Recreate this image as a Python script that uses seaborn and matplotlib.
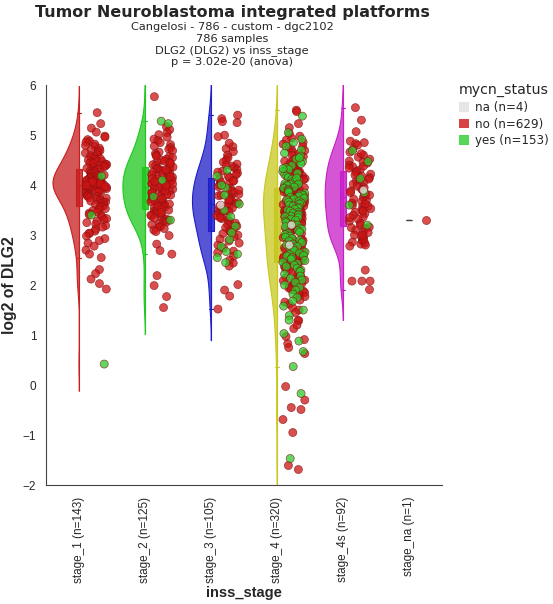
import numpy as np
import pandas as pd
import matplotlib
matplotlib.use("Agg")
import matplotlib.pyplot as plt
import seaborn as sns
from matplotlib.colors import to_rgba
from matplotlib.patches import Patch, Rectangle

# categories / labels
stages = ["stage_1", "stage_2", "stage_3", "stage_4", "stage_4s", "stage_na"]
stage_labels = ["stage_1 (n=143)", "stage_2 (n=125)", "stage_3 (n=105)",
                "stage_4 (n=320)", "stage_4s (n=92)", "stage_na (n=1)"]
status_levels = ["na", "no", "yes"]
status_labels = ["na (n=4)", "no (n=629)", "yes (n=153)"]

# log2 of DLG2, per stage and mycn status
s1_no = [5.45, 5.23, 5.14, 5.06, 4.98, 4.96, 4.91, 4.88, 4.86, 4.82,
         4.79, 4.77, 4.74, 4.71, 4.69, 4.66, 4.64, 4.61, 4.59, 4.57,
         4.55, 4.53, 4.52, 4.50, 4.48, 4.47, 4.45, 4.44, 4.43, 4.42,
         4.41, 4.39, 4.38, 4.37, 4.35, 4.34, 4.32, 4.31, 4.30, 4.28,
         4.27, 4.26, 4.24, 4.23, 4.22, 4.20, 4.19, 4.18, 4.16, 4.15,
         4.14, 4.13, 4.12, 4.10, 4.09, 4.08, 4.07, 4.06, 4.05, 4.04,
         4.03, 4.02, 4.01, 3.99, 3.98, 3.97, 3.96, 3.95, 3.93, 3.92,
         3.91, 3.90, 3.88, 3.87, 3.86, 3.85, 3.83, 3.82, 3.81, 3.79,
         3.78, 3.77, 3.75, 3.74, 3.72, 3.71, 3.69, 3.68, 3.66, 3.65,
         3.63, 3.61, 3.59, 3.57, 3.55, 3.53, 3.51, 3.49, 3.46, 3.44,
         3.41, 3.39, 3.36, 3.33, 3.31, 3.28, 3.25, 3.22, 3.19, 3.16,
         3.12, 3.08, 3.04, 3.03, 2.98, 2.93, 2.89, 2.84, 2.78, 2.70,
         2.62, 2.55, 2.31, 2.23, 2.12, 2.03, 1.92, 4.02, 4.05, 3.98,
         4.08, 3.96, 4.04, 4.01, 3.99, 4.06, 4.03, 3.97, 4.07, 4.00]
s1_yes = [0.42, 3.40, 4.18]

s2_no = [5.77, 5.17, 5.11, 5.05, 5.01, 4.96, 4.92, 4.89, 4.85, 4.81,
         4.78, 4.75, 4.72, 4.69, 4.66, 4.63, 4.60, 4.57, 4.55, 4.52,
         4.50, 4.47, 4.45, 4.43, 4.41, 4.39, 4.37, 4.35, 4.34, 4.32,
         4.30, 4.28, 4.26, 4.24, 4.22, 4.20, 4.18, 4.16, 4.14, 4.12,
         4.10, 4.08, 4.06, 4.04, 4.02, 4.00, 3.98, 3.96, 3.94, 3.92,
         3.90, 3.88, 3.86, 3.84, 3.82, 3.80, 3.78, 3.76, 3.74, 3.72,
         3.70, 3.68, 3.66, 3.64, 3.62, 3.60, 3.58, 3.56, 3.54, 3.52,
         3.50, 3.48, 3.46, 3.44, 3.42, 3.40, 3.38, 3.36, 3.34, 3.32,
         3.30, 3.28, 3.26, 3.23, 3.21, 3.18, 3.16, 3.13, 3.10, 3.07,
         2.99, 2.82, 2.69, 2.62, 2.19, 1.99, 1.77, 1.55, 4.48, 4.21,
         3.95, 3.67, 4.58, 3.81, 4.13, 3.57, 4.36, 4.02, 3.73, 4.27,
         3.89, 3.51, 4.44, 4.07, 3.62, 3.85, 4.17, 3.99, 3.45, 4.31]
s2_yes = [5.28, 5.23, 3.77, 4.10, 3.30]

s3_no = [5.40, 5.33, 5.27, 5.25, 5.00, 4.97, 4.77, 4.73, 4.67, 4.60,
         4.55, 4.50, 4.46, 4.42, 4.38, 4.35, 4.31, 4.28, 4.24, 4.21,
         4.18, 4.15, 4.12, 4.09, 4.06, 4.03, 4.00, 3.97, 3.94, 3.91,
         3.88, 3.85, 3.82, 3.79, 3.76, 3.73, 3.70, 3.68, 3.66, 3.63,
         3.60, 3.57, 3.54, 3.51, 3.48, 3.45, 3.42, 3.39, 3.36, 3.33,
         3.30, 3.27, 3.24, 3.21, 3.18, 3.15, 3.12, 3.09, 3.06, 3.03,
         3.00, 2.97, 2.92, 2.88, 2.84, 2.80, 2.74, 2.68, 2.65, 2.58,
         2.50, 2.44, 2.38, 2.01, 1.90, 1.78, 1.52, 4.84, 4.40, 3.90,
         3.65, 3.35, 4.26, 3.58, 3.80, 4.08, 3.47, 3.71]
s3_yes = [4.30, 4.18, 3.95, 3.62, 3.18, 2.91, 2.77, 2.62, 2.67, 3.37,
          4.00, 3.50, 3.80, 2.45, 2.55, 3.05]
s3_na = [3.60]

s4_no = [5.50, 5.47, 5.23, 5.15, 5.03, 4.98, 4.94, 4.90, 4.86, 4.82,
         4.78, 4.75, 4.72, 4.69, 4.66, 4.63, 4.60, 4.57, 4.54, 4.51,
         4.48, 4.46, 4.43, 4.41, 4.38, 4.36, 4.34, 4.31, 4.29, 4.27,
         4.25, 4.23, 4.21, 4.19, 4.17, 4.15, 4.13, 4.11, 4.09, 4.08,
         4.06, 4.05, 4.03, 4.02, 4.00, 3.99, 3.98, 3.97,
         3.96, 3.95, 3.93, 3.92, 3.91, 3.89, 3.88, 3.86, 3.85, 3.84,
         3.82, 3.81, 3.79, 3.78, 3.77, 3.75, 3.74, 3.72, 3.71, 3.70,
         3.68, 3.67, 3.65, 3.64, 3.63, 3.61, 3.60, 3.58, 3.57, 3.56,
         3.54, 3.53, 3.51, 3.50, 3.49, 3.47, 3.46, 3.45, 3.43, 3.42,
         3.41, 3.40, 3.39, 3.38, 3.37, 3.36, 3.35, 3.34, 3.33,
         3.31, 3.29, 3.27, 3.25, 3.23, 3.21, 3.19, 3.17, 3.15, 3.13,
         3.11, 3.09, 3.07, 3.05, 3.03, 3.01, 2.99, 2.97, 2.95, 2.93,
         2.91, 2.89, 2.87, 2.85, 2.83, 2.81, 2.79, 2.77, 2.75, 2.73,
         2.71, 2.69, 2.67, 2.65, 2.63, 2.61, 2.59, 2.58, 2.57, 2.56,
         2.54, 2.52, 2.50, 2.48, 2.46, 2.44, 2.42, 2.40, 2.38,
         2.36, 2.33, 2.31, 2.28, 2.26, 2.23, 2.21, 2.18, 2.15, 2.12,
         2.09, 2.06, 2.03, 2.00, 1.97, 1.94, 1.91, 1.88, 1.85, 1.80,
         1.77, 1.70, 1.62, 1.55, 1.50, 1.29, 1.29, 1.13, 0.97, 0.91,
         0.83, 0.63, -0.03, -0.30, -0.45, -0.49, -0.69, -0.95, -1.61, -1.69,
         1.95, 2.25, 1.84, 2.10, 1.66, 1.45, 2.35, 1.20, 0.75]
s4_yes = [5.38, 5.05, 4.92, 4.85, 4.78, 4.70, 4.64, 4.58, 4.52, 4.47,
          4.43, 4.39, 4.35, 4.31, 4.27, 4.24, 4.21, 4.18, 4.15, 4.12,
          4.10, 4.07, 4.05, 4.03, 4.01, 3.99, 4.55, 4.33, 4.14, 4.02,
          3.96, 3.94, 3.92, 3.90, 3.88, 3.86, 3.84, 3.82, 3.80, 3.78,
          3.76, 3.74, 3.72, 3.70, 3.68, 3.66, 3.64, 3.62, 3.60, 3.58,
          3.56, 3.54, 3.52, 3.50, 3.48, 3.46, 3.44, 3.42, 3.40, 3.38, 3.37,
          3.35, 3.32, 3.30, 3.28, 3.25, 3.22, 3.20, 3.17, 3.14, 3.12,
          3.09, 3.06, 3.04, 3.01, 2.98, 2.96, 2.93, 2.90, 2.88, 2.85,
          2.82, 2.80, 2.77, 2.74, 2.72, 2.69, 2.66, 2.64, 2.61, 2.59, 2.58,
          2.55, 2.52, 2.49, 2.46, 2.43, 2.40, 2.37, 2.34, 2.30, 2.27,
          2.22, 2.18, 2.14, 2.10, 2.05, 2.00, 1.95, 1.90, 1.82, 1.75,
          1.68, 1.58, 1.50, 1.39, 1.30, 1.03, 0.88, 0.67, 0.37, -0.17, -1.47]
s4_na = [3.20, 2.80]

s4s_no = [5.55, 5.30, 5.07, 4.88, 4.85, 4.83, 4.80, 4.72, 4.66, 4.60,
          4.56, 4.52, 4.48, 4.44, 4.40, 4.37, 4.34, 4.31, 4.28, 4.25,
          4.22, 4.18, 4.15, 4.12, 4.08, 4.05, 4.02, 3.98, 3.95, 3.92,
          3.88, 3.85, 3.82, 3.78, 3.75, 3.72, 3.70, 3.67, 3.64, 3.60,
          3.57, 3.53, 3.50, 3.46, 3.43, 3.40, 3.36, 3.32, 3.28, 3.24,
          3.20, 3.16, 3.13, 3.10, 3.05, 3.00, 2.95, 2.90, 2.88, 2.86,
          2.84, 2.82, 2.80, 2.78, 2.30, 2.08, 2.08, 2.08, 1.91, 4.63,
          4.20, 3.90, 3.58, 3.15, 2.98, 4.46, 3.80, 3.35, 4.10, 3.62,
          2.92, 3.05, 4.38, 3.48, 3.00]
s4s_yes = [4.69, 4.47, 4.13, 3.60, 3.20, 3.85]
s4s_na = [3.90]

sna_no = [3.30]

groups = [("stage_1", "no", s1_no), ("stage_1", "yes", s1_yes),
          ("stage_2", "no", s2_no), ("stage_2", "yes", s2_yes),
          ("stage_3", "no", s3_no), ("stage_3", "yes", s3_yes), ("stage_3", "na", s3_na),
          ("stage_4", "no", s4_no), ("stage_4", "yes", s4_yes), ("stage_4", "na", s4_na),
          ("stage_4s", "no", s4s_no), ("stage_4s", "yes", s4s_yes), ("stage_4s", "na", s4s_na),
          ("stage_na", "no", sna_no)]
rows = []
for stage, status, vals in groups:
    rows += [(stage, status, v) for v in vals]
df = pd.DataFrame(rows, columns=["inss_stage", "mycn_status", "value"])

# colours
stage_colors = ["#c81e1e", "#1ec81e", "#1e1ec8", "#c8c81e", "#c81ec8", "#444444"]
status_colors = {"na": "#e6e6e6", "no": "#cc1414", "yes": "#2ccc2c"}

ylo, yhi = -2, 6

sns.set_style("white")
np.random.seed(3)

fig = plt.figure(figsize=(5.53, 6.04), dpi=100)
ax = fig.add_axes([0.083, 0.197, 0.716, 0.662])

# half violins (left side); a single sample gets no violin
counts = df["inss_stage"].value_counts()
vdf = df[df["inss_stage"].map(counts) > 1]
n0 = len(ax.collections)
sns.violinplot(data=vdf, x="inss_stage", y="value", order=stages, hue="inss_stage",
               hue_order=stages, palette=stage_colors, inner=None, cut=2, width=0.8,
               common_norm=True, linewidth=0.8, saturation=1, legend=False, ax=ax)
for coll in ax.collections[n0:]:
    paths = coll.get_paths()
    if not paths:
        continue
    verts = np.concatenate([p.vertices for p in paths])
    c = float(np.round(verts[:, 0].mean()))
    col = stage_colors[int(c)]
    coll.set_facecolor(to_rgba(col, 0.75))
    coll.set_edgecolor(col)
    coll.set_clip_path(Rectangle((c - 0.5, ylo), 0.5, yhi - ylo, transform=ax.transData))
    ax.vlines(c, max(verts[:, 1].min(), ylo), min(verts[:, 1].max(), yhi), color=col, lw=0.8, zorder=2)

# narrow boxes
for i, s in enumerate(stages):
    sub = df[df["inss_stage"] == s]
    n0 = len(ax.patches)
    sns.boxplot(data=sub, x="inss_stage", y="value", order=stages, width=0.1,
                color=stage_colors[i], linecolor=stage_colors[i], linewidth=0.8,
                showfliers=False, showmeans=True, meanline=True,
                meanprops=dict(color=stage_colors[i], ls="--", lw=0.8),
                saturation=1, ax=ax)
    for p in ax.patches[n0:]:
        p.set_facecolor(to_rgba(stage_colors[i], 0.85))
        p.set_edgecolor(stage_colors[i])

# jittered points, shifted to the right of each violin
n0 = len(ax.collections)
sns.stripplot(data=df, x="inss_stage", y="value", order=stages, hue="mycn_status",
              hue_order=status_levels, palette=status_colors, jitter=0.17, size=5.8,
              alpha=0.75, linewidth=0.5, edgecolor="#8a1010", legend=False, ax=ax)
for coll in ax.collections[n0:]:
    off = coll.get_offsets()
    if len(off):
        coll.set_offsets(off + np.array([0.26, 0]))

ax.set_xlim(-0.5, len(stages) - 0.5)
ax.set_ylim(ylo, yhi)
ax.set_yticks(range(ylo, yhi + 1))
ax.set_xticks(range(len(stages)))
ax.set_xticklabels(stage_labels, rotation=90, family="Liberation Sans", fontsize=8.5)
ax.set_xticks([-0.5, len(stages) - 0.5], minor=True)
for lab in ax.get_yticklabels():
    lab.set_family("Liberation Sans")
    lab.set_fontsize(8.5)
ax.tick_params(axis="both", which="both", direction="out", length=5, width=0.8, color="#444444")
ax.tick_params(axis="y", pad=2)
sns.despine(ax=ax)
for sp in ["left", "bottom"]:
    ax.spines[sp].set_color("#444444")
    ax.spines[sp].set_linewidth(0.8)
ax.set_xlabel("inss_stage", fontsize=10.5, fontweight="bold", family="Liberation Sans", labelpad=2)
ax.set_ylabel("log2 of DLG2", fontsize=11.3, fontweight="bold", family="Liberation Sans", labelpad=4)

fig.text(0.42, 0.980, "Tumor Neuroblastoma integrated platforms", ha="center", va="center",
         fontsize=11.5, fontweight="bold", family="DejaVu Sans")
subs = ["Cangelosi - 786 - custom - dgc2102", "786 samples",
        "DLG2 (DLG2) vs inss_stage", "p = 3.02e-20 (anova)"]
for k, t in enumerate(subs):
    fig.text(0.42, 0.956 - k * 0.0198, t, ha="center", va="center", fontsize=8.2, family="DejaVu Sans")

handles = [Patch(facecolor=to_rgba(status_colors[s], 0.8 if s != "na" else 1.0), edgecolor="none")
           for s in status_levels]
leg = fig.legend(handles, status_labels, title="mycn_status", loc="upper left",
                 bbox_to_anchor=(0.830, 0.862), frameon=False, fontsize=8.6,
                 title_fontsize=10.2, handlelength=0.85, handleheight=0.85,
                 handletextpad=0.45, labelspacing=0.3, borderaxespad=0, borderpad=0)
leg._legend_box.align = "left"

fig.savefig("out.png", dpi=100)
